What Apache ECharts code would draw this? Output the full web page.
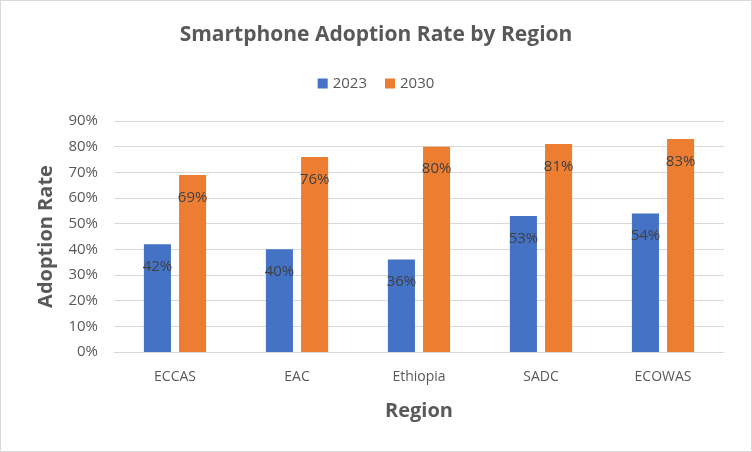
<!DOCTYPE html>
<html><head><meta charset="utf-8">
<script src="https://cdn.jsdelivr.net/npm/echarts@6/dist/echarts.min.js"></script>
<style>html,body{margin:0;padding:0;background:#fff}#c{width:750px;height:450px;border:1px solid #d9d9d9}</style>
</head><body><div id="c"></div>
<script>
const categories = ['ECCAS','EAC','Ethiopia','SADC','ECOWAS'];
const values2023 = [42,40,36,53,54];
const values2030 = [69,76,80,81,83];
const yTicks = [0,10,20,30,40,50,60,70,80,90];
const FONT = 'Open Sans, Noto Sans, sans-serif';
const chart = echarts.init(document.getElementById('c'));
const lbl = {show:true, position:'insideTop', distance:15, color:'#404040', fontSize:15, fontFamily:FONT, formatter:p=>p.value+'%'};
chart.setOption({
  animation:false,
  title:{text:'Smartphone Adoption Rate by Region', left:'center', top:19,
    textStyle:{fontSize:21, fontWeight:'bold', color:'#595959', fontFamily:FONT}},
  legend:{top:70, left:'center', itemWidth:10, itemHeight:10, itemGap:18, icon:'rect',
    textStyle:{fontSize:15, color:'#595959', fontFamily:FONT}},
  grid:{left:113, right:27, top:120, bottom:99, containLabel:false},
  xAxis:{type:'category', data:categories, name:'Region', nameLocation:'middle', nameGap:49,
    nameTextStyle:{fontSize:20, fontWeight:'bold', color:'#595959', fontFamily:FONT},
    axisLine:{lineStyle:{color:'#d9d9d9'}}, axisTick:{show:false},
    axisLabel:{fontSize:14, color:'#595959', margin:18, fontFamily:FONT}},
  yAxis:{type:'value', min:0, max:90, interval:10, name:'Adoption Rate', nameLocation:'middle', nameGap:58,
    nameTextStyle:{fontSize:20, fontWeight:'bold', color:'#595959', fontFamily:FONT},
    axisLabel:{formatter:v=>v+'%', fontSize:15, color:'#595959', margin:16, fontFamily:FONT},
    splitLine:{lineStyle:{color:'#d9d9d9'}}, axisLine:{show:false}, axisTick:{show:false}},
  series:[
    {name:'2023', type:'bar', data:values2023, itemStyle:{color:'#4472C4'}, barGap:'30%', barCategoryGap:'49%', label:lbl},
    {name:'2030', type:'bar', data:values2030, itemStyle:{color:'#ED7D31'}, barGap:'30%', barCategoryGap:'49%', label:lbl}
  ]
});
</script></body></html>
